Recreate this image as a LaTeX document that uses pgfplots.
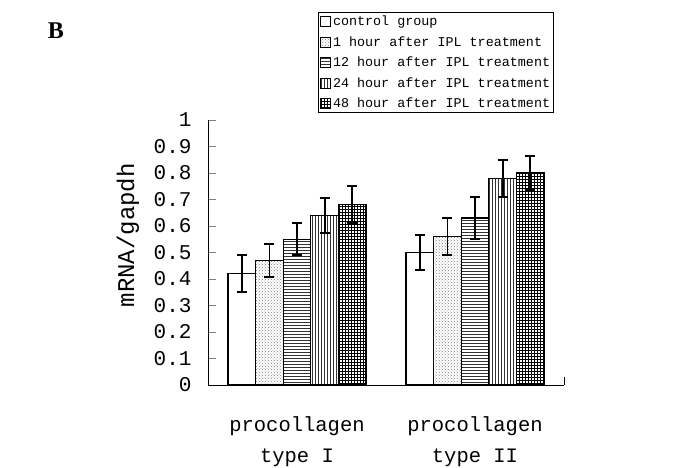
\documentclass[border=0pt]{standalone}
\usepackage{fontspec}
\setmainfont{Liberation Mono}
\newfontfamily\serifb{Liberation Serif}
\usepackage{pgfplots}
\pgfplotsset{compat=1.18}
\usetikzlibrary{patterns}
\begin{document}
\begin{tikzpicture}
\useasboundingbox (0pt,0pt) rectangle (688pt,467pt);
\node[font=\serifb\bfseries\fontsize{24}{24}\selectfont] at (56pt,436pt) {B};
\begin{axis}[
  at={(208pt,82pt)}, anchor=south west,
  scale only axis, width=356pt, height=265pt,
  xmin=-0.5, xmax=1.5, ymin=0, ymax=1,
  axis x line=bottom, axis y line=left,
  axis line style={-, line width=1pt},
  ybar=0pt, bar width=27.6pt,
  xtick={0,1},
  xticklabels={procollagen\\type I, procollagen\\type II},
  xticklabel style={align=center, font=\fontsize{20.5}{31}\selectfont, yshift=-28pt},
  major x tick style={draw=none},
  extra x ticks={1.5}, extra x tick labels={},
  extra x tick style={major x tick style={draw=black, line width=1pt}, tick align=inside, major tick length=8pt},
  ytick={0,0.1,...,1},
  tick align=inside, major tick length=8pt,
  major y tick style={line width=1pt},
  yticklabel style={font=\fontsize{21}{21}\selectfont, /pgf/number format/fixed, /pgf/number format/assume math mode=true, xshift=-13pt},
  ylabel={mRNA/gapdh},
  ylabel style={font=\fontsize{24}{24}\selectfont, at={(axis description cs:-0.225,0.565)}, anchor=center},
  legend style={at={(axis description cs:0.309,1.4075)}, anchor=north west,
    font=\fontsize{13.4}{15}\selectfont, draw=black, line width=1pt, inner sep=1.5pt, row sep=5.3pt,
    legend cell align=left},
  legend image code/.code={\draw[#1, line width=1pt] (0pt,-5pt) rectangle (10pt,5pt);},
  error bars/y dir=both, error bars/y explicit,
  error bars/error mark options={rotate=90, mark size=5pt, line width=1.8pt},
  error bars/error bar style={line width=1.8pt},
  every axis plot/.append style={draw=black, line width=1.2pt},
]
\addplot[fill=white] coordinates {(0,0.42) +- (0,0.07) (1,0.50) +- (0,0.066)};
\addplot[pattern=crosshatch dots, pattern color=gray] coordinates {(0,0.47) +- (0,0.063) (1,0.56) +- (0,0.07)};
\addplot[pattern=horizontal lines, pattern color=black!80] coordinates {(0,0.55) +- (0,0.06) (1,0.63) +- (0,0.08)};
\addplot[pattern=vertical lines, pattern color=black!80] coordinates {(0,0.64) +- (0,0.066) (1,0.78) +- (0,0.07)};
\addplot[pattern=grid, pattern color=black] coordinates {(0,0.68) +- (0,0.07) (1,0.80) +- (0,0.065)};
\legend{control group, 1 hour after IPL treatment, 12 hour after IPL treatment, 24 hour after IPL treatment, 48 hour after IPL treatment}
\end{axis}
\end{tikzpicture}
\end{document}
